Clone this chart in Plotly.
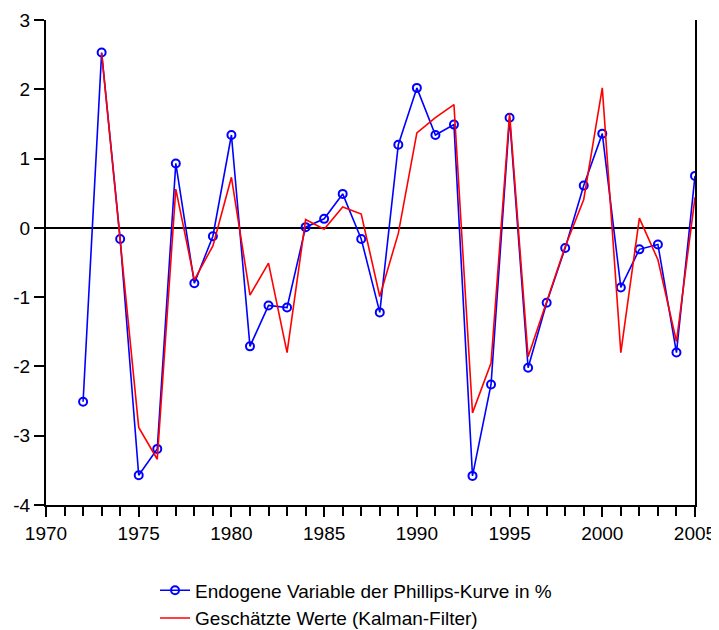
import plotly.graph_objects as go

years = list(range(1972, 2006))
endogen = [-2.51, 2.53, -0.16, -3.57, -3.19, 0.93, -0.80, -0.12, 1.34, -1.71,
           -1.12, -1.15, 0.01, 0.13, 0.49, -0.16, -1.22, 1.20, 2.02, 1.34,
           1.49, -3.58, -2.26, 1.59, -2.02, -1.08, -0.29, 0.61, 1.36, -0.86,
           -0.31, -0.24, -1.80, 0.75]
kalman = [None, 2.52, -0.16, -2.88, -3.34, 0.56, -0.75, -0.26, 0.73, -0.97,
          -0.51, -1.80, 0.12, -0.02, 0.30, 0.20, -0.99, -0.08, 1.37, 1.59,
          1.78, -2.67, -1.95, 1.65, -1.86, -1.06, -0.27, 0.41, 2.02, -1.80,
          0.14, -0.46, -1.64, 0.44]

y_tickvals = [-4, -3, -2, -1, 0, 1, 2, 3]
y_ticktext = ["-4", "-3", "-2", "-1", "0", "1", "2", "3"]

name_a = "Endogene Variable der Phillips-Kurve in %"
name_b = "Geschätzte Werte (Kalman-Filter)"

fig = go.Figure()
fig.add_trace(go.Scatter(
    x=years, y=endogen, name=name_a, mode="lines+markers",
    line=dict(color="#0000ff", width=1.6),
    marker=dict(symbol="circle-open", size=8, color="#0000ff", line=dict(width=2, color="#0000ff")),
))
fig.add_trace(go.Scatter(
    x=years, y=kalman, name=name_b, mode="lines",
    line=dict(color="#ff0000", width=1.6),
))

# page body has an 8px default margin, so the figure is sized to fit the window
fig.update_layout(
    width=711, height=622,
    margin=dict(l=38, r=24, t=12, b=125, autoexpand=False),
    paper_bgcolor="white", plot_bgcolor="white",
    font=dict(family="Liberation Sans, Arial, sans-serif", size=19, color="black"),
    showlegend=True,
    legend=dict(x=0.168, y=-0.137, xanchor="left", yanchor="top",
                font=dict(size=19), bgcolor="rgba(0,0,0,0)", tracegroupgap=0),
)
fig.update_xaxes(
    range=[1970, 2005], tickmode="linear", tick0=1970, dtick=5, automargin=False,
    showgrid=False, zeroline=False, showline=True, linecolor="black", linewidth=2,
    ticks="outside", ticklen=10, tickwidth=1.5, tickcolor="black",
    tickfont=dict(size=19),
    minor=dict(dtick=1, ticks="outside", ticklen=9, tickwidth=1.5, tickcolor="black", showgrid=False),
)
fig.update_yaxes(
    range=[-4, 3], tickmode="array", tickvals=y_tickvals, ticktext=y_ticktext, automargin=False,
    showgrid=False, zeroline=True, zerolinecolor="black", zerolinewidth=2,
    showline=True, mirror=True, linecolor="black", linewidth=2,
    ticks="outside", ticklen=10, tickwidth=1.5, tickcolor="black",
    tickfont=dict(size=19),
)

fig.write_html("out.html")
